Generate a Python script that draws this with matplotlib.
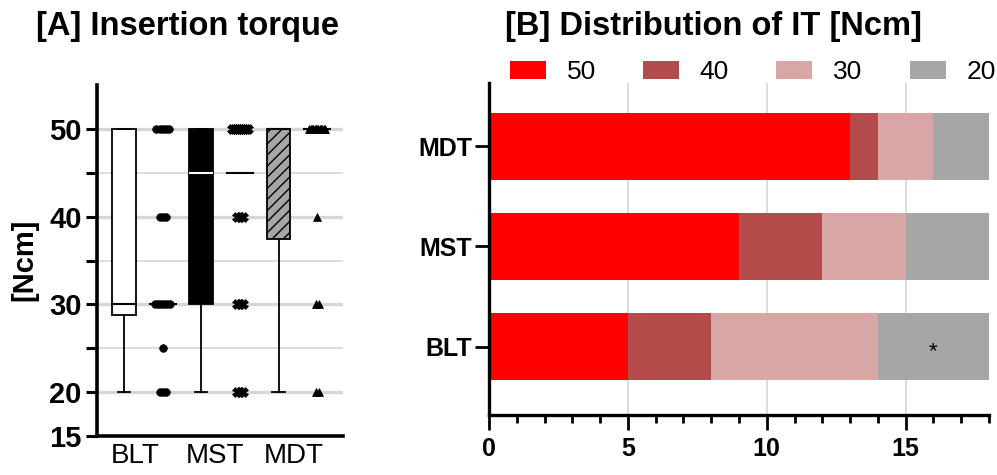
import numpy as np
import matplotlib.pyplot as plt

plt.rcParams['font.family'] = ['Liberation Sans', 'DejaVu Sans']
plt.rcParams['hatch.linewidth'] = 1.0

# insertion torque per implant [Ncm]
groups = ['BLT', 'MST', 'MDT']
blt_it = [50, 50, 50, 50, 50, 40, 40, 40, 30, 30, 30, 30, 30, 30, 25, 20, 20, 20]
mst_it = [50, 50, 50, 50, 50, 50, 50, 50, 50, 40, 40, 40, 30, 30, 30, 20, 20, 20]
mdt_it = [50, 50, 50, 50, 50, 50, 50, 50, 50, 50, 50, 50, 50, 40, 30, 30, 20, 20]

# distribution of IT (counts per class)
it_classes = ['50', '40', '30', '20']
count_50 = [5, 9, 13]
count_40 = [3, 3, 1]
count_30 = [6, 3, 2]
count_20 = [4, 3, 2]
star_group = 'BLT'

W, H = 997, 475
fig = plt.figure(figsize=(W / 100, H / 100), dpi=100)

# ---------------- [A] box + scatter ----------------
axA = fig.add_axes([97 / W, 1 - 436 / H, 246 / W, 351 / H])
data = [blt_it, mst_it, mdt_it]

for v in [20, 30, 40, 50]:
    axA.axhline(v, color='#d6d6d6', lw=2.4, zorder=0)
for v in [25, 35, 45]:
    axA.axhline(v, color='#d6d6d6', lw=1.2, zorder=0)

stats = []
for d in data:
    q1, med, q3 = np.percentile(d, [25, 50, 75], method='weibull')
    stats.append(dict(med=med, q1=q1, q3=q3, whislo=min(d), whishi=max(d), fliers=[]))

bp = axA.bxp(stats, positions=[0, 2, 4], widths=0.62, capwidths=0.32,
             patch_artist=True, showfliers=False)
faces = ['white', 'black', '#a6a6a6']
med_colors = ['black', 'white', 'black']
for i, box in enumerate(bp['boxes']):
    box.set_facecolor(faces[i])
    box.set_edgecolor('black')
    box.set_linewidth(1.3)
    box.set_zorder(2)
bp['boxes'][2].set_hatch('///')
for i, m in enumerate(bp['medians']):
    m.set_color(med_colors[i])
    m.set_linewidth(1.5)
    m.set_zorder(3)
for ln in bp['whiskers'] + bp['caps']:
    ln.set_color('black')
    ln.set_linewidth(1.3)

markers = [('o', 5.5), ('X', 7), ('^', 6)]
for i, d in enumerate(data):
    x0 = 2 * i + 1
    axA.plot([x0 - 0.34, x0 + 0.34], [np.median(d)] * 2, color='black', lw=1.5, zorder=3)
    vals, cnts = np.unique(d, return_counts=True)
    for v, n in zip(vals, cnts):
        step = min(0.08, 0.4 / (n - 1)) if n > 1 else 0
        xs = x0 + (np.arange(n) - (n - 1) / 2) * step
        axA.plot(xs, [v] * n, ls='none', marker=markers[i][0], ms=markers[i][1],
                 color='black', mec='black', mew=0.5, zorder=4)

axA.set_xlim(-0.7, 5.67)
axA.set_ylim(15, 55)
axA.set_yticks([15, 20, 30, 40, 50])
axA.set_yticks([25, 35, 45], minor=True)
axA.set_xticks([0.3, 2.35, 4.4])
axA.set_xticklabels(groups, fontsize=20)
axA.tick_params(axis='x', length=0, pad=5)
axA.tick_params(axis='y', which='both', length=8, width=2.2, pad=3, labelsize=21)
for lab in axA.get_yticklabels():
    lab.set_fontweight('bold')
for s in ['top', 'right']:
    axA.spines[s].set_visible(False)
for s in ['left', 'bottom']:
    axA.spines[s].set_linewidth(2.6)
fig.text(24 / W, 1 - 260 / H, '[Ncm]', rotation=90, ha='center', va='center',
         fontsize=21, fontweight='bold')
fig.text(187 / W, 1 - 26 / H, '[A] Insertion torque', ha='center', va='center',
         fontsize=23.5, fontweight='bold')

# ---------------- [B] stacked bars ----------------
axB = fig.add_axes([489 / W, 1 - 415 / H, 500 / W, 332 / H])
colors = ['#ff0000', '#b34b4b', '#d9a6a6', '#a6a6a6']
counts = [count_50, count_40, count_30, count_20]
ypos = np.arange(len(groups))
left = np.zeros(len(groups))
for lab, c, col in zip(it_classes, counts, colors):
    axB.barh(ypos, c, left=left, height=0.67, color=col, label=lab, zorder=2)
    left = left + np.array(c)

gi = groups.index(star_group)
axB.text(left[gi] - count_20[gi] / 2, ypos[gi] - 0.05, '*', ha='center', va='center',
         fontsize=16, zorder=3)

for v in [5, 10, 15]:
    axB.axvline(v, color='#d6d6d6', lw=1.2, zorder=0)

axB.set_xlim(0, 18)
axB.set_ylim(-0.68, 2.63)
axB.set_yticks(ypos)
axB.set_yticklabels(groups, fontsize=18, fontweight='bold')
axB.set_xticks([0, 5, 10, 15])
axB.set_xticks(np.arange(0, 19, 1), minor=True)
axB.tick_params(axis='x', which='major', length=11, width=2, pad=5, labelsize=18)
axB.tick_params(axis='x', which='minor', length=6, width=2)
axB.tick_params(axis='y', length=10, width=2, pad=2)
for lab in axB.get_xticklabels():
    lab.set_fontweight('bold')
for s in ['top', 'right']:
    axB.spines[s].set_visible(False)
for s in ['left', 'bottom']:
    axB.spines[s].set_linewidth(2.4)

fig.legend(loc='center left', bbox_to_anchor=(510 / W, 1 - 72 / H), ncol=4,
           frameon=False, fontsize=19, handlelength=1.36, handleheight=0.68,
           handletextpad=0.78, columnspacing=1.8, borderpad=0, borderaxespad=0)
fig.text(713 / W, 1 - 26 / H, '[B] Distribution of IT [Ncm]', ha='center', va='center',
         fontsize=23.5, fontweight='bold')

fig.savefig('out.png', dpi=100)
